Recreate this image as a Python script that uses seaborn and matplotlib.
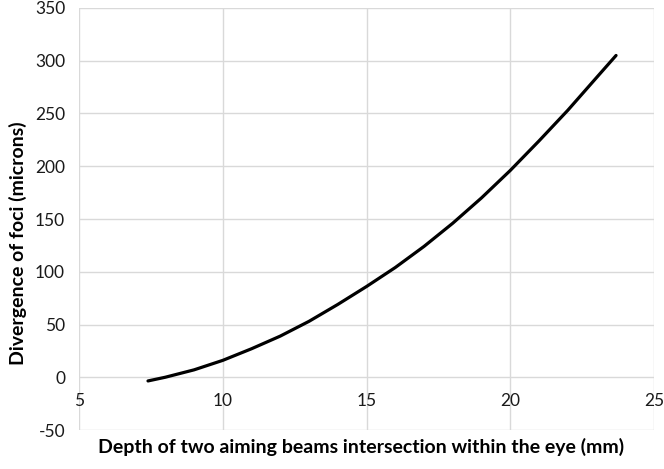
import matplotlib
matplotlib.use("Agg")
import matplotlib.pyplot as plt
import seaborn as sns
import pandas as pd

depth_mm = [7.4, 8, 9, 10, 11, 12, 13, 14, 15, 16, 17, 18, 19, 20, 21, 22, 23, 23.68]
divergence_um = [-3.5, 0, 7, 16, 27, 39, 53, 69, 86, 104, 124, 146, 170, 196, 224, 253, 284, 305]
x_ticks = [5, 10, 15, 20, 25]
y_ticks = [-50, 0, 50, 100, 150, 200, 250, 300, 350]
x_label = "Depth of two aiming beams intersection within the eye (mm)"
y_label = "Divergence of foci (microns)"

sns.set_style("white")
plt.rcParams["font.family"] = ["Lato", "DejaVu Sans"]

df = pd.DataFrame({"depth": depth_mm, "div": divergence_um})

fig = plt.figure(figsize=(6.64, 4.69), dpi=100)
ax = fig.add_axes([79 / 664, 1 - 430 / 469, (654 - 79) / 664, (430 - 8) / 469])

sns.lineplot(data=df, x="depth", y="div", ax=ax, color="black", linewidth=2.3,
             sort=False, estimator=None)
ax.lines[0].set_solid_capstyle("round")

ax.set_xlim(5, 25)
ax.set_ylim(-50, 350)
ax.set_xticks(x_ticks)
ax.set_yticks(y_ticks)
ax.set_xticklabels([str(v) for v in x_ticks])
ax.set_yticklabels([str(v) for v in y_ticks])

grid_c = "#d9d9d9"
for v in y_ticks:
    ax.axhline(v, color=grid_c, lw=1.0, zorder=0)
for v in x_ticks:
    ax.axvline(v, color=grid_c, lw=1.0, zorder=0)

for s in ax.spines.values():
    s.set_visible(False)
ax.spines["bottom"].set_position(("data", 0))

ax.tick_params(axis="both", length=0, labelsize=12.5, colors="#1a1a1a")
ax.tick_params(axis="x", pad=11)
ax.tick_params(axis="y", pad=10)
ax.set_xlabel("")
ax.set_ylabel("")

fig.text(361 / 664, 1 - 447 / 469, x_label, ha="center", va="center",
         fontsize=14, fontweight="bold", color="black")
fig.text(18 / 664, 1 - 243 / 469, y_label, ha="center", va="center",
         rotation=90, fontsize=14, fontweight="bold", color="black")

fig.savefig("out.png", dpi=100)
